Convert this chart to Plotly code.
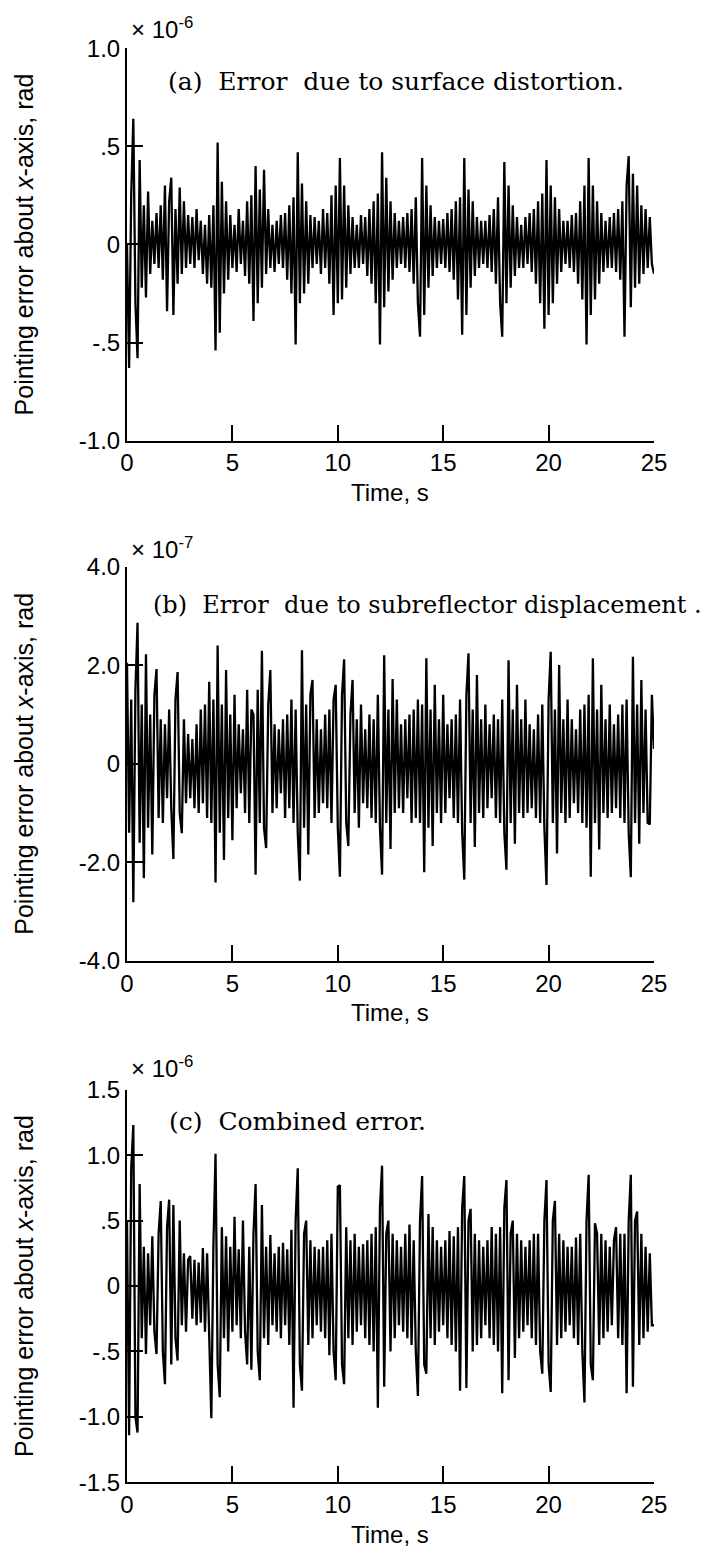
import plotly.graph_objects as go

# ---------------- data (sampled every 0.1 s, 0..25 s) ----------------
time_step = 0.1
time_s = [round(i * time_step, 1) for i in range(251)]

# (a) surface distortion, units of 1e-6 rad
err_surface = [
    0.00, -0.63, 0.25, 0.64, -0.30, -0.58, 0.43, -0.22, 0.20, -0.27,
    0.27, -0.15, 0.12, -0.10, 0.16, -0.12, 0.20, -0.18, 0.30, -0.34,
    0.22, 0.34, -0.36, 0.18, -0.20, 0.29, -0.15, 0.22, -0.12, 0.15,
    -0.10, 0.14, -0.12, 0.18, -0.08, 0.12, -0.15, 0.10, -0.20, 0.15,
    -0.22, 0.20, -0.54, 0.52, -0.45, 0.32, -0.25, 0.22, -0.18, 0.15,
    -0.12, 0.10, -0.14, 0.18, -0.10, 0.12, -0.16, 0.22, -0.20, 0.25,
    -0.39, 0.40, -0.30, 0.28, -0.22, 0.38, -0.15, 0.18, -0.12, 0.10,
    -0.14, 0.12, -0.10, 0.15, -0.12, 0.16, -0.18, 0.20, -0.25, 0.24,
    -0.51, 0.47, -0.30, 0.31, -0.25, 0.22, -0.20, 0.15, -0.12, 0.14,
    -0.10, 0.12, -0.15, 0.18, -0.12, 0.16, -0.20, 0.25, -0.36, 0.30,
    -0.30, 0.44, -0.28, 0.30, -0.22, 0.20, -0.15, 0.14, -0.12, 0.10,
    -0.12, 0.15, -0.10, 0.14, -0.16, 0.18, -0.20, 0.22, -0.30, 0.26,
    -0.51, 0.47, -0.32, 0.34, -0.24, 0.22, -0.18, 0.16, -0.12, 0.12,
    -0.10, 0.14, -0.12, 0.16, -0.14, 0.18, -0.20, 0.24, -0.30, -0.47,
    0.44, -0.36, 0.30, -0.22, 0.20, -0.16, 0.14, -0.12, 0.12, -0.10,
    0.13, -0.12, 0.16, -0.14, 0.18, -0.18, 0.22, -0.28, 0.24, -0.46,
    0.44, -0.36, 0.28, -0.22, 0.22, -0.16, 0.14, -0.12, 0.12, -0.10,
    0.12, -0.12, 0.15, -0.14, 0.18, -0.20, 0.24, -0.30, -0.47, 0.42,
    -0.30, 0.30, -0.22, 0.20, -0.16, 0.14, -0.12, 0.10, -0.12, 0.14,
    -0.10, 0.16, -0.14, 0.18, -0.20, 0.22, -0.30, 0.26, -0.43, 0.43,
    -0.36, 0.30, -0.30, 0.24, -0.20, 0.18, -0.14, 0.12, -0.10, 0.12,
    -0.12, 0.15, -0.14, 0.16, -0.20, 0.22, -0.28, 0.30, -0.51, 0.44,
    -0.36, 0.30, -0.28, 0.22, -0.20, 0.16, -0.14, 0.12, -0.12, 0.14,
    -0.12, 0.16, -0.14, 0.18, -0.18, 0.22, -0.47, 0.30, 0.45, -0.32,
    0.36, -0.22, 0.30, -0.20, 0.20, -0.15, 0.18, -0.12, 0.14, -0.10,
    -0.15,
]

# (b) subreflector displacement, units of 1e-7 rad
err_subreflector = [
    2.05, -1.40, 1.30, -2.81, 1.50, 2.86, -1.60, 1.20, -2.32, 2.22,
    -1.30, 1.00, -1.84, 1.40, 1.92, -1.10, 0.90, -1.20, 0.80, -0.70,
    1.10, -0.90, -1.93, 1.30, 1.86, -1.00, -1.41, 0.90, -0.80, 0.60,
    -0.70, 0.50, -0.90, 0.80, -1.00, 1.10, -0.80, 1.20, -1.10, 1.66,
    -1.20, 1.30, -2.41, 2.40, -1.40, 1.20, -1.95, 1.90, -1.10, 1.00,
    -1.55, 1.40, -0.90, 0.80, -0.60, 0.70, -1.00, 1.50, -1.20, 1.10,
    1.00, -2.25, 1.50, -1.20, 2.29, -1.30, -1.71, 1.20, 1.90, -1.00,
    0.80, -0.90, 0.70, -0.60, 0.90, -1.10, 1.00, -0.90, 1.30, -1.20,
    1.10, -1.40, -2.37, 2.30, -1.30, 1.20, -1.84, 1.40, 1.70, -1.10,
    0.90, -1.00, 0.70, -0.80, 1.00, -0.90, 1.10, -1.20, 1.30, 1.60,
    -1.30, -2.29, 1.40, 2.12, -1.20, -1.67, 1.00, 1.70, -1.00, 0.90,
    -1.30, 1.20, -0.80, 0.70, -0.90, 1.00, -1.10, 0.90, -1.20, 1.40,
    -1.30, -2.25, 2.20, -1.20, 1.10, -1.73, 1.72, -1.00, 1.30, -0.90,
    0.80, -1.00, 0.90, -0.70, 1.00, -1.20, 1.10, -1.10, 1.30, -1.20,
    1.20, -2.20, 2.14, -1.30, 1.10, -1.67, 1.60, -1.00, 0.90, -1.20,
    1.40, -1.00, 0.80, -0.70, 0.90, -1.10, 1.00, -1.20, 1.30, -1.40,
    -2.35, 1.40, 2.24, -1.20, 1.10, -1.69, 1.80, -1.00, 0.90, -1.10,
    1.20, -0.90, 0.80, -0.70, 1.00, -1.10, 0.90, -1.20, 1.30, -1.40,
    -2.15, 2.10, -1.20, 1.10, -1.62, 1.60, -1.00, 0.90, -1.10, 1.30,
    -1.00, 0.80, -0.90, 0.70, -1.10, 1.00, -1.20, 1.20, -1.30, -2.46,
    1.30, 2.27, -1.20, 1.10, -1.82, 2.00, -1.00, 0.90, -1.20, 1.30,
    -1.10, 0.90, -0.80, 0.70, -1.00, 1.10, -1.20, 1.20, -1.30, 1.40,
    -2.29, 2.14, -1.20, 1.10, -1.74, 1.60, -1.00, 0.90, -1.10, 1.20,
    -1.00, 0.80, -0.90, 1.00, -1.10, 1.20, -1.20, 1.30, -1.40, -2.30,
    2.17, -1.20, 1.20, -1.62, 1.70, -1.00, 1.10, -1.20, -1.23, 1.40,
    0.30,
]

# (c) combined, units of 1e-6 rad
err_combined = [
    0.50, -1.14, 0.90, 1.23, -1.00, -1.12, 0.78, -0.40, 0.30, -0.52,
    0.25, -0.30, 0.38, -0.35, -0.52, 0.40, 0.65, -0.50, -0.75, 0.45,
    0.66, -0.60, 0.62, -0.40, -0.57, 0.50, -0.30, 0.25, -0.35, 0.20,
    0.23, -0.25, 0.20, -0.30, 0.18, -0.28, 0.29, -0.35, 0.25, -0.40,
    -1.01, 0.32, 1.01, -0.60, -0.85, 0.45, -0.40, 0.38, -0.50, 0.30,
    -0.35, 0.53, -0.30, 0.28, -0.40, 0.50, -0.35, -0.60, 0.30, -0.64,
    0.40, 0.78, -0.50, -0.72, 0.62, -0.40, 0.30, -0.45, 0.39, -0.30,
    0.25, -0.35, 0.30, -0.40, 0.33, -0.30, 0.28, -0.45, 0.43, -0.93,
    0.50, 0.90, -0.60, -0.80, 0.40, 0.50, -0.45, 0.35, -0.40, 0.30,
    -0.30, 0.28, -0.35, 0.30, -0.40, 0.35, -0.53, 0.40, -0.50, -0.72,
    0.76, 0.77, -0.60, -0.75, 0.45, -0.40, 0.35, -0.45, 0.40, -0.35,
    0.30, -0.30, 0.32, -0.40, 0.35, -0.45, 0.40, -0.50, 0.45, -0.93,
    0.60, 0.92, -0.77, 0.40, 0.50, -0.50, 0.40, -0.40, 0.35, -0.30,
    0.30, -0.35, 0.40, -0.40, 0.47, -0.45, 0.35, -0.50, -0.84, 0.50,
    0.84, -0.60, -0.67, 0.55, -0.40, 0.45, -0.45, 0.35, -0.35, 0.30,
    -0.30, 0.35, -0.40, 0.42, -0.45, 0.38, -0.50, 0.45, -0.80, 0.60,
    0.84, -0.78, 0.50, 0.59, -0.50, 0.40, -0.45, 0.35, -0.40, 0.30,
    -0.30, 0.35, -0.40, 0.45, -0.45, 0.40, -0.50, 0.45, -0.82, 0.60,
    0.81, -0.72, 0.40, 0.50, -0.55, 0.40, -0.40, 0.35, -0.35, 0.30,
    -0.30, 0.35, -0.40, 0.40, -0.45, 0.40, -0.50, -0.67, 0.50, 0.81,
    -0.60, -0.81, 0.50, 0.65, -0.45, 0.40, -0.40, 0.35, -0.35, 0.30,
    -0.30, 0.30, -0.40, 0.37, -0.45, 0.40, -0.50, -0.89, 0.50, 0.85,
    -0.60, -0.72, 0.48, 0.40, -0.45, 0.40, -0.40, 0.35, -0.35, 0.30,
    -0.30, 0.35, 0.45, -0.40, 0.40, -0.45, 0.40, -0.82, 0.50, 0.85,
    -0.77, 0.50, 0.57, -0.45, 0.40, -0.40, 0.30, -0.35, 0.25, -0.30,
    -0.30,
]

x_ticks = [0, 5, 10, 15, 20, 25]
y_ticks_a = [-1.0, -0.5, 0.0, 0.5, 1.0]
y_labels_a = ["-1.0", "-.5", "0", ".5", "1.0"]
y_ticks_b = [-4.0, -2.0, 0.0, 2.0, 4.0]
y_labels_b = ["-4.0", "-2.0", "0", "2.0", "4.0"]
y_ticks_c = [-1.5, -1.0, -0.5, 0.0, 0.5, 1.0, 1.5]
y_labels_c = ["-1.5", "-1.0", "-.5", "0", ".5", "1.0", "1.5"]

panel_titles = [
    "(a)\u00a0\u00a0Error\u00a0\u00a0due to surface distortion.",
    "(b)\u00a0\u00a0Error\u00a0\u00a0due to subreflector displacement\u00a0.",
    "(c)\u00a0\u00a0Combined error.",
]
exponents = ["-6", "-7", "-6"]
y_title = "Pointing error about <i>x</i>-axis, rad"
x_title = "Time, s"

# ---------------- layout geometry ----------------
W, H = 726, 1556
L, R = 119, 80


def ry(t):
    # target pixel row -> layout pixel row (compensates page offset/scale)
    return (t - 20.75) / 0.984


def rx(t):
    return t - 7


# target pixel extents of the three plot areas: (top, bottom)
panels_px = [(47, 440), (566, 961), (1090, 1483)]
panel_label_y = [80, 605, 1122]
panel_label_x = [165, 150, 166]
panel_label_size = [25, 24, 25]
exp_bottom_y = [44, 564, 1084]


def py(t):
    return 1 - ry(t) / H


def px(t):
    return (rx(t) - L) / (W - L - R)


fig = go.Figure()
series = [err_surface, err_subreflector, err_combined]
yticks = [(y_ticks_a, y_labels_a), (y_ticks_b, y_labels_b), (y_ticks_c, y_labels_c)]

font_sans = "Liberation Sans, Arial, Helvetica, sans-serif"
font_serif = "DejaVu Serif, Liberation Serif, serif"
tick_font = dict(family=font_sans, size=24, color="black")

annotations = []
for k in range(3):
    sfx = "" if k == 0 else str(k + 1)
    fig.add_trace(go.Scatter(
        x=time_s, y=series[k], mode="lines",
        line=dict(color="black", width=2.3),
        xaxis="x" + sfx, yaxis="y" + sfx, showlegend=False,
    ))
    top, bot = panels_px[k]
    tv, tt = yticks[k]
    fig.update_layout(**{
        "xaxis" + sfx: dict(
            domain=[0, 1], anchor="y" + sfx, range=[0, 25],
            tickvals=x_ticks, ticktext=[str(v) for v in x_ticks],
            ticks="inside", ticklen=16, tickwidth=1.5, tickcolor="black",
            showline=True, linecolor="black", linewidth=2,
            showgrid=False, zeroline=False, tickfont=tick_font,
        ),
        "yaxis" + sfx: dict(
            domain=[py(bot), py(top)], anchor="x" + sfx, range=[tv[0], tv[-1]],
            tickvals=tv, ticktext=tt,
            ticks="inside", ticklen=16, tickwidth=1.5, tickcolor="black",
            showline=True, linecolor="black", linewidth=2,
            showgrid=False, zeroline=False, tickfont=tick_font,
        ),
    })
    # exponent
    annotations.append(dict(
        x=px(128), y=py(exp_bottom_y[k]), xref="paper", yref="paper",
        xanchor="left", yanchor="bottom", showarrow=False,
        text="\u00d7\u00a010<sup>" + exponents[k] + "</sup>",
        font=dict(family=font_sans, size=24, color="black"),
    ))
    # panel label
    annotations.append(dict(
        x=px(panel_label_x[k]), y=py(panel_label_y[k]), xref="paper", yref="paper",
        xanchor="left", yanchor="middle", showarrow=False,
        text=panel_titles[k],
        font=dict(family=font_serif, size=panel_label_size[k], color="black"),
    ))
    # x title
    annotations.append(dict(
        x=px(389), y=py(bot + 52), xref="paper", yref="paper",
        xanchor="center", yanchor="middle", showarrow=False,
        text=x_title, font=dict(family=font_sans, size=24, color="black"),
    ))
    # y title
    annotations.append(dict(
        x=px(23), y=py((top + bot) / 2), xref="paper", yref="paper",
        xanchor="center", yanchor="middle", showarrow=False, textangle=-90,
        text=y_title, font=dict(family=font_sans, size=25, color="black"),
    ))

fig.update_layout(
    width=W, height=H,
    margin=dict(l=L, r=R, t=0, b=0),
    paper_bgcolor="white", plot_bgcolor="white",
    annotations=annotations,
)

fig.write_html("out.html")
